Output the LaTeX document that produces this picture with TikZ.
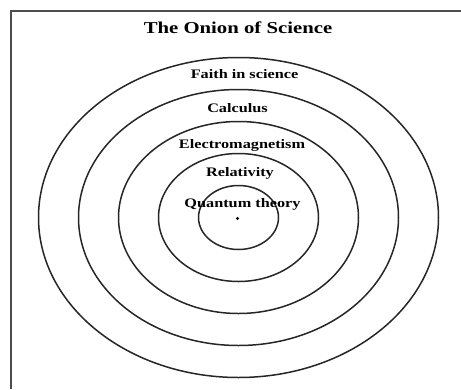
\documentclass[tikz,border=0pt]{standalone}
\usepackage{fontspec}
\setmainfont{Liberation Serif}
\usetikzlibrary{positioning}

\begin{document}
\begin{tikzpicture}[
  x=1pt, y=-1pt,
  ring/.style={draw=black!85, line width=1.5pt},
  lbl/.style={font=\fontsize{13}{15}\selectfont\bfseries, xscale=1.25, inner sep=0pt},
  ttl/.style={font=\fontsize{16.6}{19}\selectfont\bfseries, xscale=1.25, inner sep=0pt},
  frm/.style={draw=black!70, line width=2pt}
]
\useasboundingbox (0,0) rectangle (461,389);
\coordinate (ctr) at (238.5,217.5);
\coordinate (tr) at (461,10.5);
\coordinate (tl) at (10.5,10.5);
\coordinate (bl) at (10.5,389);
\draw[frm] (tr) -- (tl) -- (bl);
% rings, inner to outer
\foreach \r in {1,...,5}
  \draw[ring] (ctr) ellipse ({40*\r} and {32*\r});
\fill (237.5,218.5) circle (1.6);
\node[ttl] (title) at (238,28) {The Onion of Science};
\node[lbl] (faith) at (244.5,74) {Faith in science};
\node[lbl] (calc) at (237.5,108) {Calculus};
\node[lbl] (em) at (242,145) {Electromagnetism};
\node[lbl] (rel) at (240,173) {Relativity};
\node[lbl] (qt) at (242.5,204) {Quantum theory};
\end{tikzpicture}
\end{document}
